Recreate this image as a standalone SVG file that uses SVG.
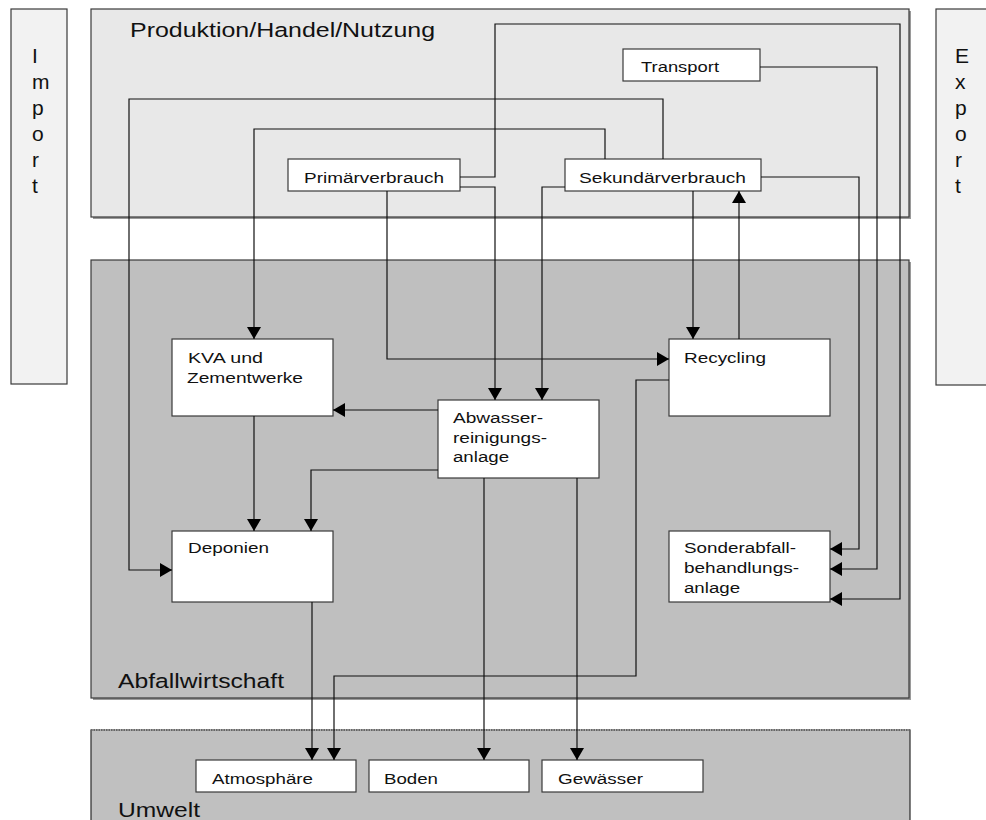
<svg xmlns="http://www.w3.org/2000/svg" width="986" height="820" viewBox="0 0 986 820">
  <style>
    .zone { stroke: #3a3a3a; stroke-width: 1.2; }
    .node rect { fill: #ffffff; stroke: #3a3a3a; stroke-width: 1.2; }
    text { font-family: "Liberation Sans", Arial, sans-serif; fill: #111111; }
    .title { font-size: 20.5px; }
    .lbl { font-size: 15.5px; }
    .side { font-size: 21px; }
    .conn path { fill: none; stroke: #111111; stroke-width: 1.2; }
    .arr { marker-end: url(#arrow); }
  </style>
  <defs>
    <marker id="arrow" markerUnits="userSpaceOnUse" markerWidth="14" markerHeight="14" refX="12" refY="7" orient="auto">
      <path d="M0,0 L12,7 L0,14 z" fill="#000000"/>
    </marker>
  </defs>

  <rect width="986" height="820" fill="#ffffff"/>

  <!-- Import / Export side bars -->
  <g id="import">
    <rect class="zone" x="11" y="9" width="56" height="375" fill="#f2f2f2"/>
    <text class="side" x="32" y="63">I</text>
    <text class="side" x="32" y="89">m</text>
    <text class="side" x="32" y="115">p</text>
    <text class="side" x="32" y="141">o</text>
    <text class="side" x="32" y="167">r</text>
    <text class="side" x="32" y="193">t</text>
  </g>
  <g id="export">
    <rect class="zone" x="936" y="9" width="60" height="376" fill="#f2f2f2"/>
    <text class="side" x="955" y="63">E</text>
    <text class="side" x="955" y="89">x</text>
    <text class="side" x="955" y="115">p</text>
    <text class="side" x="955" y="141">o</text>
    <text class="side" x="955" y="167">r</text>
    <text class="side" x="955" y="193">t</text>
  </g>

  <!-- Sectors -->
  <g id="produktion">
    <rect x="93" y="11" width="818" height="208" fill="#9a9a9a"/>
    <rect class="zone" x="91" y="9" width="818" height="208" fill="#e8e8e8"/>
    <text class="title" x="130" y="37" textLength="305" lengthAdjust="spacingAndGlyphs">Produktion/Handel/Nutzung</text>
  </g>
  <g id="abfallwirtschaft">
    <rect x="93" y="262" width="818" height="438" fill="#9a9a9a"/>
    <rect class="zone" x="91" y="260" width="818" height="438" fill="#bfbfbf"/>
    <text class="title" x="118" y="688" textLength="166" lengthAdjust="spacingAndGlyphs">Abfallwirtschaft</text>
  </g>
  <g id="umwelt">
    <rect x="91" y="730" width="819" height="100" fill="#c0c0c0" stroke="#2a2a2a" stroke-width="1.2"/>
    <line x1="91" y1="730" x2="910" y2="730" stroke="#c0c0c0" stroke-width="1.4"/>
    <line x1="91" y1="730" x2="910" y2="730" stroke="#222222" stroke-width="1.2" stroke-dasharray="1.5,1"/>
    <text class="title" x="118" y="817" textLength="82" lengthAdjust="spacingAndGlyphs">Umwelt</text>
  </g>

  <!-- Nodes -->
  <g id="transport" class="node">
    <rect x="623" y="49" width="137" height="32"/>
    <text class="lbl" x="641" y="72" textLength="78" lengthAdjust="spacingAndGlyphs">Transport</text>
  </g>
  <g id="primaerverbrauch" class="node">
    <rect x="288" y="159" width="172" height="32"/>
    <text class="lbl" x="304" y="183" textLength="140" lengthAdjust="spacingAndGlyphs">Primärverbrauch</text>
  </g>
  <g id="sekundaerverbrauch" class="node">
    <rect x="565" y="159" width="196" height="32"/>
    <text class="lbl" x="579" y="183" textLength="167" lengthAdjust="spacingAndGlyphs">Sekundärverbrauch</text>
  </g>
  <g id="kva" class="node">
    <rect x="172" y="339" width="161" height="77"/>
    <text class="lbl" x="188" y="363" textLength="75" lengthAdjust="spacingAndGlyphs">KVA und</text>
    <text class="lbl" x="187" y="383" textLength="116" lengthAdjust="spacingAndGlyphs">Zementwerke</text>
  </g>
  <g id="recycling" class="node">
    <rect x="669" y="339" width="161" height="77"/>
    <text class="lbl" x="684" y="363" textLength="82" lengthAdjust="spacingAndGlyphs">Recycling</text>
  </g>
  <g id="abwasser" class="node">
    <rect x="438" y="400" width="161" height="78"/>
    <text class="lbl" x="453" y="423" textLength="90" lengthAdjust="spacingAndGlyphs">Abwasser-</text>
    <text class="lbl" x="453" y="443" textLength="94" lengthAdjust="spacingAndGlyphs">reinigungs-</text>
    <text class="lbl" x="453" y="462" textLength="56" lengthAdjust="spacingAndGlyphs">anlage</text>
  </g>
  <g id="deponien" class="node">
    <rect x="172" y="531" width="161" height="71"/>
    <text class="lbl" x="188" y="553" textLength="81" lengthAdjust="spacingAndGlyphs">Deponien</text>
  </g>
  <g id="sonderabfall" class="node">
    <rect x="669" y="531" width="161" height="71"/>
    <text class="lbl" x="684" y="553" textLength="112" lengthAdjust="spacingAndGlyphs">Sonderabfall-</text>
    <text class="lbl" x="684" y="573" textLength="115" lengthAdjust="spacingAndGlyphs">behandlungs-</text>
    <text class="lbl" x="684" y="593" textLength="56" lengthAdjust="spacingAndGlyphs">anlage</text>
  </g>
  <g id="atmosphaere" class="node">
    <rect x="196" y="760" width="160" height="32"/>
    <text class="lbl" x="212" y="784" textLength="101" lengthAdjust="spacingAndGlyphs">Atmosphäre</text>
  </g>
  <g id="boden" class="node">
    <rect x="369" y="760" width="160" height="32"/>
    <text class="lbl" x="384" y="784" textLength="54" lengthAdjust="spacingAndGlyphs">Boden</text>
  </g>
  <g id="gewaesser" class="node">
    <rect x="542" y="760" width="161" height="32"/>
    <text class="lbl" x="558" y="784" textLength="85" lengthAdjust="spacingAndGlyphs">Gewässer</text>
  </g>

  <!-- Connectors -->
  <g id="connectors" class="conn">
    <path class="arr" d="M663,159 V99 H129 V570 H172"/>
    <path class="arr" d="M605,159 V129 H254 V339"/>
    <path class="arr" d="M460,177 H495 V24 H900 V599 H830"/>
    <path class="arr" d="M460,187 H495 V400"/>
    <path class="arr" d="M565,187 H542 V400"/>
    <path class="arr" d="M387,191 V359 H669"/>
    <path class="arr" d="M693,191 V339"/>
    <path class="arr" d="M739,339 V191"/>
    <path class="arr" d="M761,177 H859 V549 H830"/>
    <path class="arr" d="M760,67 H877 V569 H830"/>
    <path class="arr" d="M438,410 H333"/>
    <path class="arr" d="M438,470 H311 V531"/>
    <path class="arr" d="M254,416 V531"/>
    <path class="arr" d="M669,380 H636 V676 H334 V760"/>
    <path class="arr" d="M312,602 V760"/>
    <path class="arr" d="M484,478 V760"/>
    <path class="arr" d="M577,478 V760"/>
  </g>
</svg>
